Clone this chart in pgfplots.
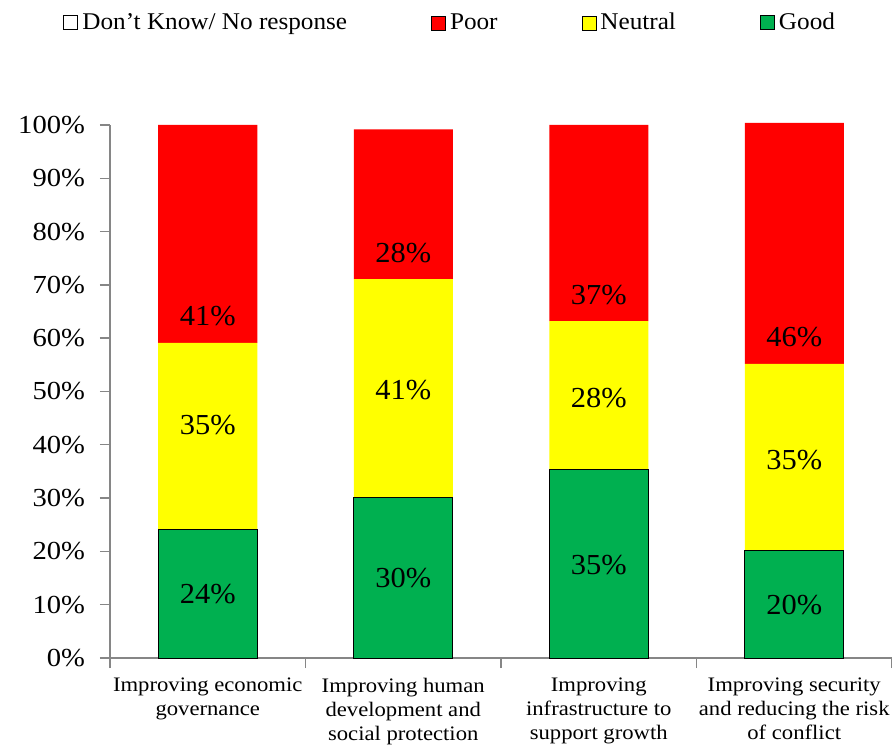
\documentclass[border=0pt]{standalone}
\usepackage{pgfplots}
\pgfplotsset{compat=1.18}
\usepackage{fontspec}
\setmainfont{Liberation Serif}[FakeStretch=1.05]
\newfontfamily\widefont{Liberation Serif}[FakeStretch=1.1]
\definecolor{cgood}{HTML}{00B050}
\definecolor{cneu}{HTML}{FFFF00}
\definecolor{cpoor}{HTML}{FF0000}
\definecolor{caxis}{HTML}{868686}
\pgfplotsset{
  common/.style={
    scale only axis,
    width=391pt, height=266.5pt,
    xmin=-0.5, xmax=3.5,
    ymin=0, ymax=100,
    clip=false,
  }
}
\begin{document}
\begin{tikzpicture}
\begin{axis}[
  common,
  ybar stacked,
  bar width=49.5pt,
  axis lines*=left,
  axis line style={-, draw=caxis, line width=0.7pt},
  tick align=outside,
  major tick length=5pt,
  tick style={draw=caxis, line width=0.7pt},
  ytick={0,10,...,100},
  yticklabel={\pgfmathprintnumber{\tick}\%},
  /pgf/number format/assume math mode=true,
  yticklabel style={font=\widefont\fontsize{13}{15}\selectfont, xshift=-4pt},
  xtick={-0.5,0.5,1.5,2.5,3.5},
  xticklabels={},
  extra x ticks={0,1,2,3},
  extra x tick labels={Improving economic\\governance, Improving human\\development and\\social protection, Improving\\infrastructure to\\support growth, Improving security\\and reducing the risk\\of conflict},
  extra x tick style={major tick length=0pt, tick style={draw=none},
    ticklabel style={align=center, font=\widefont\fontsize{10.3}{12}\selectfont, yshift=-6.5pt}},
  legend columns=4,
  reverse legend,
  legend style={at={(axis description cs:0,1)}, anchor=west, xshift=-23.5pt, yshift=51pt,
    draw=none, fill=none, inner sep=0pt, font=\fontsize{12}{14}\selectfont,
    /tikz/every even column/.append style={column sep=40pt}},
  legend image code/.code={\draw[#1] (0pt,-3.5pt) rectangle (7pt,3.5pt);},
]
\addplot[fill=cgood, draw=black, line width=0.5pt] coordinates {(0,24.2) (1,30.2) (2,35.3) (3,20.1)};
\addlegendentry{Good}
\addplot[fill=cneu, draw=none] coordinates {(0,34.9) (1,40.9) (2,27.9) (3,35.1)};
\addlegendentry{Neutral}
\addplot[fill=cpoor, draw=none] coordinates {(0,40.9) (1,28.1) (2,36.8) (3,45.2)};
\addlegendentry{Poor}
\addlegendimage{fill=white, draw=black, line width=0.5pt}
\addlegendentry{Don’t Know/ No response}
\coordinate (sw) at (rel axis cs:0,0);
\coordinate (ne) at (rel axis cs:1,1);
\end{axis}
\begin{axis}[
  common,
  hide axis,
  point meta=explicit symbolic,
  nodes near coords,
  every node near coord/.append style={anchor=center, font=\fontsize{14.5}{16}\selectfont, text=black},
]
\addplot[draw=none, mark=none] coordinates {(0,12.0) [24\%] (1,15.0) [30\%] (2,17.4) [35\%] (3,9.9) [20\%]};
\addplot[draw=none, mark=none] coordinates {(0,43.7) [35\%] (1,50.3) [41\%] (2,48.8) [28\%] (3,37.1) [35\%]};
\addplot[draw=none, mark=none] coordinates {(0,64.2) [41\%] (1,76.0) [28\%] (2,68.1) [37\%] (3,60.2) [46\%]};
\end{axis}
\pgfresetboundingbox
\path ([xshift=-55pt,yshift=-43pt]sw) rectangle ([yshift=62.5pt]ne);
\end{tikzpicture}
\end{document}
